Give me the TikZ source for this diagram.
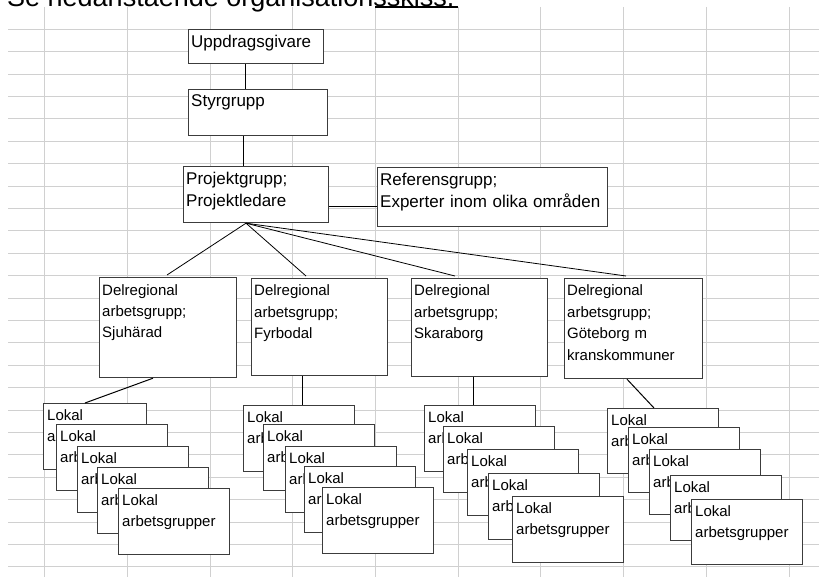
\documentclass[tikz,border=0pt]{standalone}
\usepackage{fontspec}
\setmainfont{Liberation Sans}
\definecolor{gridgray}{RGB}{208,208,208}
\definecolor{boxgray}{RGB}{60,60,60}
\begin{document}
\begin{tikzpicture}[x=1pt,y=-1pt]
    \tikzstyle{every node}+=[inner sep=0pt]
    \tikzstyle{box}=[draw=boxgray, fill=white, line width=1.2pt, anchor=north west]
    \tikzstyle{lokal}=[box, minimum width=111, minimum height=66]
    \tikzstyle{big}=[anchor=base west, align=left, text width=225pt, font=\fontsize{17}{21.5}\selectfont]
    \tikzstyle{small}=[anchor=base west, align=left, text width=130pt, font=\fontsize{15}{21.5}\selectfont]
    \tikzstyle{link}=[black, line width=1pt]
    \path[use as bounding box, clip] (0,0) rectangle (819,577);
    \fill[white] (0,0) rectangle (819,577);
    % sheet grid
    \foreach \gx in {0,...,9}
        \draw[gridgray] (44.4+82.7*\gx,7) -- (44.4+82.7*\gx,577);
    \foreach \gy in {0,...,24}
        \draw[gridgray] (8,29+22.4*\gy) -- (819,29+22.4*\gy);
    \node[anchor=base west, font=\fontsize{27}{32}\selectfont] (intro) at (7,7) {Se nedanstående organisationsskiss.};
    \draw[line width=1.4pt] (375,7) -- (458,7);
    % top of the organisation
    \node[box, minimum width=135, minimum height=34] (upp) at (188,29) {};
    \node[big] (upp-t) at ([shift={(3,19)}]upp.north west) {Uppdragsgivare};
    \node[box, minimum width=139, minimum height=46] (sty) at (188,89) {};
    \node[big] (sty-t) at ([shift={(3,18)}]sty.north west) {Styrgrupp};
    \node[box, minimum width=145, minimum height=56] (pg) at (183,166) {};
    \node[big] (pg-t) at ([shift={(3,19)}]pg.north west) {Projektgrupp;\\Projektledare};
    \node[box, minimum width=230, minimum height=59] (ref) at (377,167) {};
    \node[big] (ref-t) at ([shift={(3,19)}]ref.north west) {Referensgrupp;\\Experter inom olika områden};
    \draw[link] ([xshift=57]upp.south west) -- ([xshift=57]sty.north west);
    \draw[link] ([xshift=55]sty.south west) -- ([xshift=60]pg.north west);
    \draw[link] ([yshift=-41]pg.north east) -- ([yshift=-40]ref.north west);
    % delregional groups
    \node[box, minimum width=137, minimum height=100] (sju) at (99,277) {};
    \node[small] (sju-t) at ([shift={(3,18)}]sju.north west) {Delregional\\arbetsgrupp;\\Sjuhärad};
    \node[box, minimum width=136, minimum height=97] (fyr) at (251,278) {};
    \node[small] (fyr-t) at ([shift={(3,18)}]fyr.north west) {Delregional\\arbetsgrupp;\\Fyrbodal};
    \node[box, minimum width=136, minimum height=98] (ska) at (411,278) {};
    \node[small] (ska-t) at ([shift={(3,18)}]ska.north west) {Delregional\\arbetsgrupp;\\Skaraborg};
    \node[box, minimum width=138, minimum height=100] (gbg) at (564,278) {};
    \node[small] (gbg-t) at ([shift={(3,18)}]gbg.north west) {Delregional\\arbetsgrupp;\\Göteborg m\\kranskommuner};
    \draw[black, line width=0.8pt] ([xshift=63]pg.south west) -- ([shift={(68,-2)}]sju.north west);
    \draw[black, line width=0.8pt] ([xshift=63]pg.south west) -- ([shift={(55,-2)}]fyr.north west);
    \draw[black, line width=0.8pt] ([xshift=63]pg.south west) -- ([shift={(44,-2)}]ska.north west);
    \draw[black, line width=0.8pt] ([xshift=63]pg.south west) -- ([shift={(62,-2)}]gbg.north west);
    % local groups, Sjuhärad
    \node[lokal, minimum width=103] (sju1) at (43,403) {};
    \node[small] (sju1-t) at ([shift={(4,17)}]sju1.north west) {Lokal\\arbetsgrupper};
    \node[lokal] (sju2) at (56,424) {};
    \node[small] (sju2-t) at ([shift={(4,17)}]sju2.north west) {Lokal\\arbetsgrupper};
    \node[lokal] (sju3) at (77,446) {};
    \node[small] (sju3-t) at ([shift={(4,17)}]sju3.north west) {Lokal\\arbetsgrupper};
    \node[lokal] (sju4) at (97,467) {};
    \node[small] (sju4-t) at ([shift={(4,17)}]sju4.north west) {Lokal\\arbetsgrupper};
    \node[lokal] (sju5) at (118,488) {};
    \node[small] (sju5-t) at ([shift={(4,17)}]sju5.north west) {Lokal\\arbetsgrupper};
    \draw[link] ([xshift=54]sju.south west) -- ([xshift=42]sju1.north west);
    % local groups, Fyrbodal
    \node[lokal] (fyr1) at (243,405) {};
    \node[small] (fyr1-t) at ([shift={(4,17)}]fyr1.north west) {Lokal\\arbetsgrupper};
    \node[lokal] (fyr2) at (263,424) {};
    \node[small] (fyr2-t) at ([shift={(4,17)}]fyr2.north west) {Lokal\\arbetsgrupper};
    \node[lokal] (fyr3) at (285,446) {};
    \node[small] (fyr3-t) at ([shift={(4,17)}]fyr3.north west) {Lokal\\arbetsgrupper};
    \node[lokal] (fyr4) at (304,466) {};
    \node[small] (fyr4-t) at ([shift={(4,17)}]fyr4.north west) {Lokal\\arbetsgrupper};
    \node[lokal] (fyr5) at (322,487) {};
    \node[small] (fyr5-t) at ([shift={(4,17)}]fyr5.north west) {Lokal\\arbetsgrupper};
    \draw[link] ([xshift=51]fyr.south west) -- ([xshift=59]fyr1.north west);
    % local groups, Skaraborg
    \node[lokal] (ska1) at (424,405) {};
    \node[small] (ska1-t) at ([shift={(4,17)}]ska1.north west) {Lokal\\arbetsgrupper};
    \node[lokal] (ska2) at (443,426) {};
    \node[small] (ska2-t) at ([shift={(4,17)}]ska2.north west) {Lokal\\arbetsgrupper};
    \node[lokal] (ska3) at (467,449) {};
    \node[small] (ska3-t) at ([shift={(4,17)}]ska3.north west) {Lokal\\arbetsgrupper};
    \node[lokal] (ska4) at (488,473) {};
    \node[small] (ska4-t) at ([shift={(4,17)}]ska4.north west) {Lokal\\arbetsgrupper};
    \node[lokal] (ska5) at (512,496) {};
    \node[small] (ska5-t) at ([shift={(4,17)}]ska5.north west) {Lokal\\arbetsgrupper};
    \draw[link] ([xshift=62]ska.south west) -- ([xshift=49]ska1.north west);
    % local groups, Göteborg
    \node[lokal, minimum height=65] (gbg1) at (607,408) {};
    \node[small] (gbg1-t) at ([shift={(4,17)}]gbg1.north west) {Lokal\\arbetsgrupper};
    \node[lokal, minimum height=65] (gbg2) at (628,427) {};
    \node[small] (gbg2-t) at ([shift={(4,17)}]gbg2.north west) {Lokal\\arbetsgrupper};
    \node[lokal, minimum height=65] (gbg3) at (649,449) {};
    \node[small] (gbg3-t) at ([shift={(4,17)}]gbg3.north west) {Lokal\\arbetsgrupper};
    \node[lokal, minimum height=65] (gbg4) at (670,475) {};
    \node[small] (gbg4-t) at ([shift={(4,17)}]gbg4.north west) {Lokal\\arbetsgrupper};
    \node[lokal, minimum height=65] (gbg5) at (691,499) {};
    \node[small] (gbg5-t) at ([shift={(4,17)}]gbg5.north west) {Lokal\\arbetsgrupper};
    \draw[link] ([xshift=63]gbg.south west) -- ([xshift=47]gbg1.north west);
\end{tikzpicture}
\end{document}
